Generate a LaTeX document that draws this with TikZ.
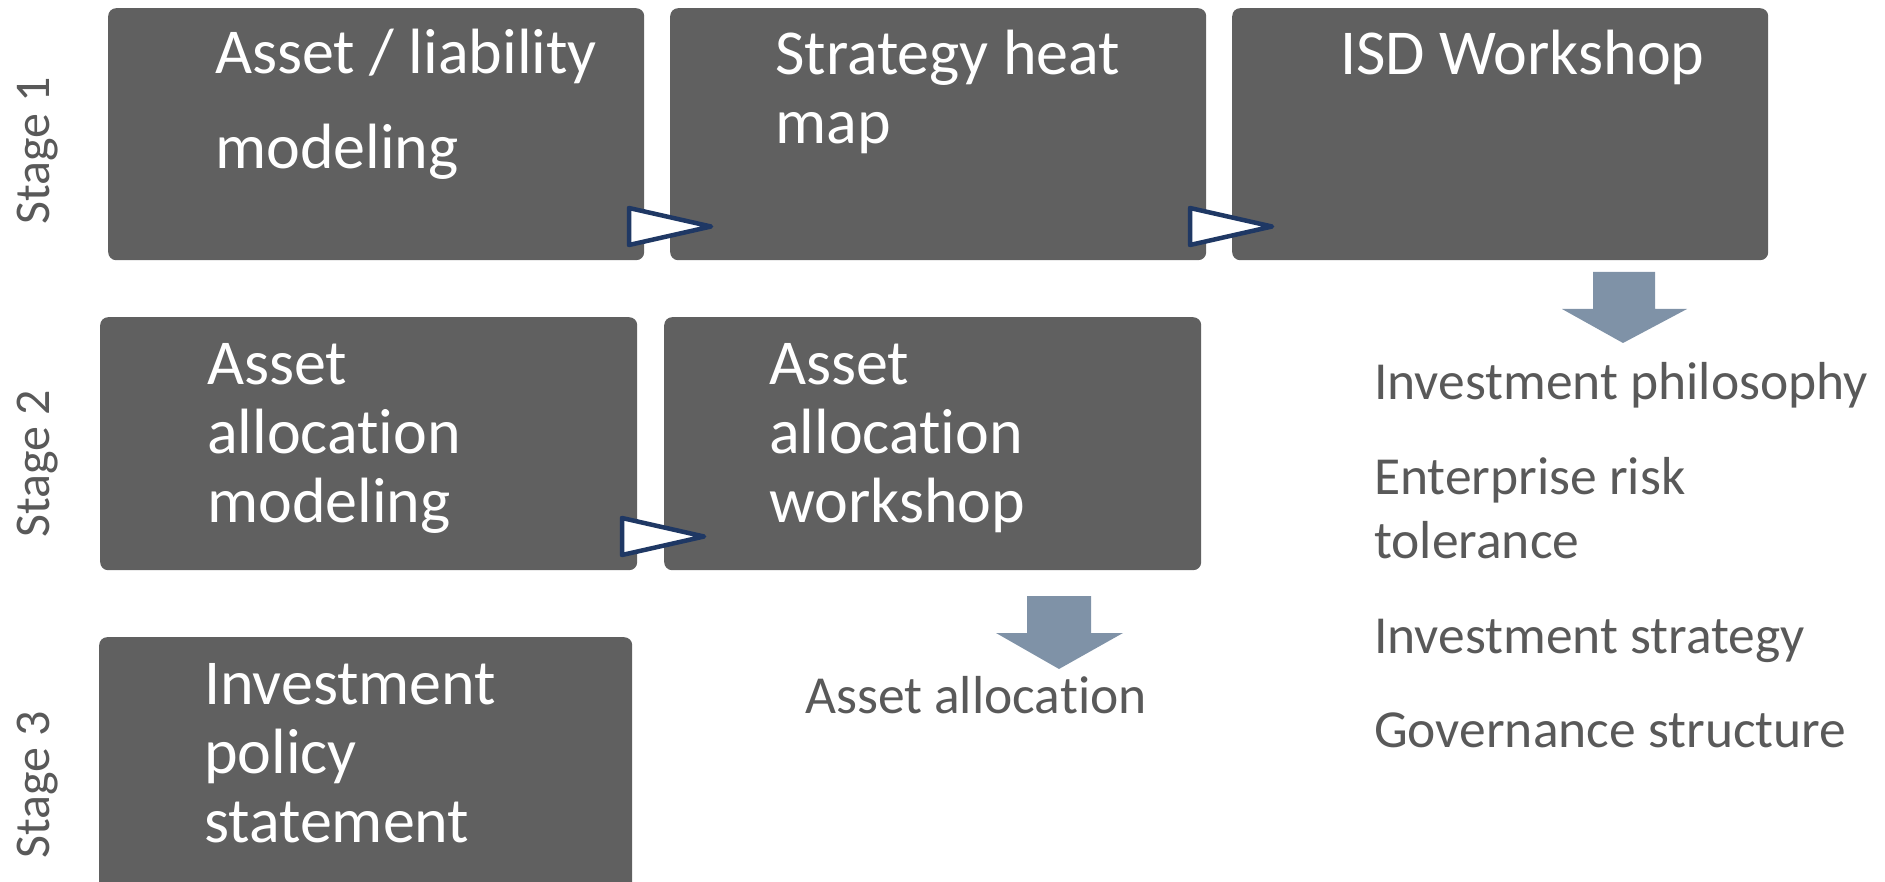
\documentclass[tikz,border=0pt]{standalone}
\usepackage{fontspec}
\setmainfont{Carlito}[Ligatures={NoCommon}]
\definecolor{boxgray}{RGB}{96,96,96}
\definecolor{txtgray}{RGB}{89,89,89}
\definecolor{navy}{RGB}{31,56,100}
\definecolor{arrowblue}{RGB}{127,146,167}
\begin{document}
\begin{tikzpicture}[x=1pt,y=-1pt,
  box/.style={fill=boxgray,rounded corners=8pt,inner sep=0pt,anchor=north west},
  boxtext/.style={text=white,inner sep=0pt,anchor=base west,font=\fontsize{64}{69}\selectfont},
  graytext/.style={text=txtgray,inner sep=0pt,anchor=base west,font=\fontsize{53.5}{64}\selectfont},
  stagetext/.style={text=txtgray,inner sep=0pt,anchor=base,rotate=90,font=\fontsize{50}{56}\selectfont},
  tri/.style={draw=navy,fill=white,line width=4.5pt,line join=round},
  blockarrow/.style={fill=arrowblue}]
\useasboundingbox (0,0) rectangle (1885,882);
\clip (0,0) rectangle (1885,882);
% boxes
\node[box,minimum width=536pt,minimum height=252pt] (b1) at (108,8) {};
\node[box,minimum width=536pt,minimum height=252pt] (b2) at (670,8) {};
\node[box,minimum width=536pt,minimum height=252pt] (b3) at (1232,8) {};
\node[box,minimum width=537pt,minimum height=253pt] (b4) at (100,317) {};
\node[box,minimum width=537pt,minimum height=253pt] (b5) at (664,317) {};
\node[box,minimum width=533pt,minimum height=280pt] (b6) at (99,637) {};
% box texts
\node[boxtext] (t1) at (215,74) {\vtop{\baselineskip=95pt\hbox{Asset / liability}\hbox{modeling}}};
\node[boxtext] (t2) at (775,75) {\vtop{\hbox{Strategy heat}\hbox{map}}};
\node[boxtext] (t3) at (1340,75) {ISD Workshop};
\node[boxtext] (t4) at (207,385) {\vtop{\hbox{Asset}\hbox{allocation}\hbox{modeling}}};
\node[boxtext] (t5) at (769,385) {\vtop{\hbox{Asset}\hbox{allocation}\hbox{workshop}}};
\node[boxtext] (t6) at (204,704) {\vtop{\hbox{Investment}\hbox{policy}\hbox{statement}}};
% stage labels
\node[stagetext] (s1) at (49,151) {Stage 1};
\node[stagetext] (s2) at (49,464) {Stage 2};
\node[stagetext] (s3) at (49,785) {Stage 3};
% triangles between boxes
\draw[tri] (629,208) -- (629,245) -- (711,226.5) -- cycle;
\draw[tri] (1190,208) -- (1190,245) -- (1272,226.5) -- cycle;
\draw[tri] (622,518) -- (622,555) -- (704,536.5) -- cycle;
% block arrows
\fill[blockarrow] (1593,272) -- (1655,272) -- (1655,309) -- (1687,309) -- (1623,343) -- (1562,309) -- (1593,309) -- cycle;
\fill[blockarrow] (1027,596) -- (1091,596) -- (1091,633) -- (1123,633) -- (1059,669) -- (996,633) -- (1027,633) -- cycle;
% gray outputs
\node[graytext] (g1) at (1374,400) {Investment philosophy};
\node[graytext] (g2) at (1374,494) {\vtop{\hbox{Enterprise risk}\hbox{tolerance}}};
\node[graytext] (g3) at (1374,653) {Investment strategy};
\node[graytext] (g4) at (1374,747) {Governance structure};
\node[graytext] (aa) at (805,713) {Asset allocation};
\end{tikzpicture}
\end{document}
